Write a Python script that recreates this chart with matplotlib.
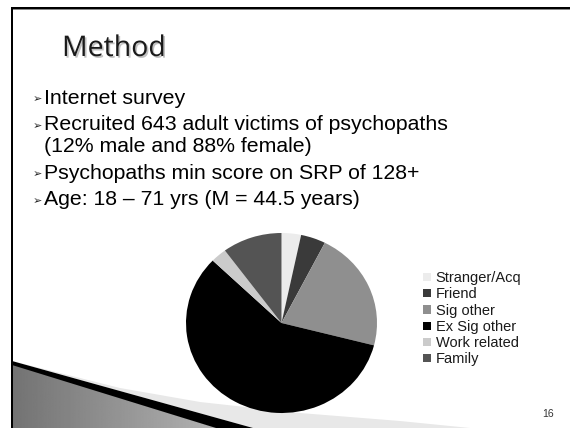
import matplotlib
matplotlib.use("Agg")
import matplotlib.pyplot as plt
import numpy as np
from matplotlib.patches import Polygon, Rectangle
import matplotlib.patheffects as pe

# ---------------- data ----------------
categories = ["Stranger/Acq", "Friend", "Sig other", "Ex Sig other", "Work related", "Family"]
shares = [3.3, 4.2, 21.5, 58.2, 2.7, 10.1]
slice_colors = ["#ececec", "#3a3a3a", "#8f8f8f", "#000000", "#cbcbcb", "#545454"]
title = "Method"
bullets = [
    ("Internet survey", None),
    ("Recruited 643 adult victims of psychopaths", "(12% male and 88% female)"),
    ("Psychopaths min score on SRP of 128+", None),
    ("Age: 18 \u2013 71 yrs (M = 44.5 years)", None),
]
page_number = "16"

W, H = 570, 428
fig = plt.figure(figsize=(W / 100, H / 100), dpi=100)
fig.patch.set_facecolor("white")

# full-figure pixel axes
bg = fig.add_axes([0, 0, 1, 1])
bg.set_xlim(0, W)
bg.set_ylim(H, 0)
bg.axis("off")

# ---- bottom-left decoration ----
grad = np.linspace(0.45, 0.75, 256)[None, :]
im = bg.imshow(grad, cmap="gray", vmin=0, vmax=1, extent=[12, 260, 428, 360],
               aspect="auto", zorder=1)
gray_poly = Polygon([(12, 364), (218, 428), (12, 428)], closed=True,
                    facecolor="none", edgecolor="none")
bg.add_patch(gray_poly)
im.set_clip_path(gray_poly)
light = Polygon([(12, 361), (40, 368), (120, 388), (200, 402), (300, 413),
                 (400, 421), (470, 428), (253, 428)], closed=True,
                facecolor="#e8e8e8", edgecolor="none", zorder=1.5)
bg.add_patch(light)
black = Polygon([(12, 361), (253, 428), (216, 428), (12, 365)], closed=True,
                facecolor="black", edgecolor="none", zorder=2)
bg.add_patch(black)

# ---- frame ----
bg.add_patch(Rectangle((11, 9), W - 11, 1.2, facecolor="#888888", edgecolor="none", zorder=3))
bg.add_patch(Rectangle((11, 6.7), W - 11, 2.4, facecolor="black", edgecolor="none", zorder=3))
bg.add_patch(Rectangle((11, 6.7), 1.8, H - 6.7, facecolor="black", edgecolor="none", zorder=3))

# ---- title ----
bg.text(62, 49, title, fontsize=20.5, family="Open Sans", color="#1a1a1a",
        va="center", ha="left", zorder=4,
        path_effects=[pe.withSimplePatchShadow(offset=(1.2, -1.2), shadow_rgbFace="#999999", alpha=0.6)])

# ---- bullets ----
y = 98
for main, cont in bullets:
    bg.text(32.5, y + 1.5, "\u27a2", fontsize=8, family="DejaVu Sans", color="#222222",
            va="center", ha="left", zorder=4)
    bg.text(44, y, main, fontsize=15.3, family="Liberation Sans", color="black",
            va="center", ha="left", zorder=4)
    if cont:
        y += 22
        bg.text(44, y, cont, fontsize=15.3, family="Liberation Sans", color="black",
                va="center", ha="left", zorder=4)
    y += 26.5

# ---- page number ----
bg.text(548, 414, page_number, fontsize=7.5, family="Liberation Sans", color="#333333",
        va="center", ha="center", zorder=4)

# ---- pie ----
x0, x1, y0, y1 = 186, 377, 233, 413
pax = fig.add_axes([x0 / W, 1 - y1 / H, (x1 - x0) / W, (y1 - y0) / H])
wedges, _ = pax.pie(shares, colors=slice_colors, startangle=90, counterclock=False,
                    radius=1, wedgeprops=dict(linewidth=0))
pax.set_xlim(-1, 1)
pax.set_ylim(-1, 1)
pax.set_aspect("auto")
pax.axis("off")
pax.set_zorder(5)

# ---- legend ----
leg = fig.legend(wedges, categories, loc="upper left",
                 bbox_to_anchor=(416 / W, 1 - 264 / H), frameon=False,
                 prop=dict(family="Liberation Sans", size=10.5),
                 handlelength=0.5, handleheight=0.5, handletextpad=0.35,
                 labelspacing=0.15, borderpad=0)
for t in leg.get_texts():
    t.set_color("#1a1a1a")

fig.savefig("out.png", dpi=100, facecolor="white")
